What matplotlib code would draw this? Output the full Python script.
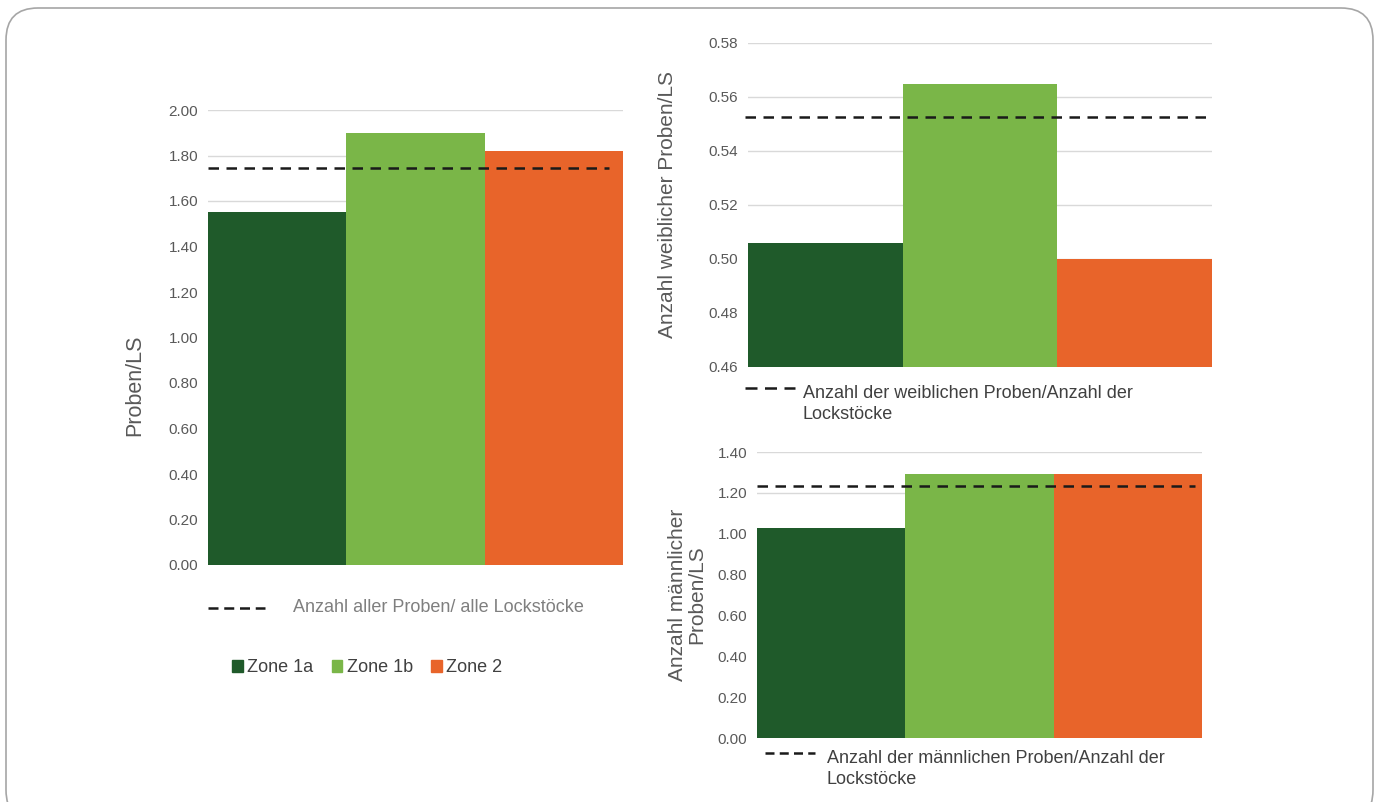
import matplotlib
matplotlib.use('Agg')
import matplotlib.pyplot as plt
from matplotlib.patches import FancyBboxPatch, Patch
from matplotlib.lines import Line2D

plt.rcParams['font.family'] = ['Liberation Sans', 'DejaVu Sans']

zones = ['Zone 1a', 'Zone 1b', 'Zone 2']
colors = ['#1f5a2a', '#7ab648', '#e8642a']

all_vals = [1.55, 1.90, 1.82]
all_mean = 1.745
female_vals = [0.506, 0.565, 0.500]
female_mean = 0.5525
male_vals = [1.03, 1.29, 1.29]
male_mean = 1.233

W, H = 1381, 802
fig = plt.figure(figsize=(W / 100, H / 100), dpi=100)
fig.patch.set_facecolor('white')

# rounded frame, in pixels
frame = FancyBboxPatch((6, -20), 1367, 814,
                       boxstyle='round,pad=0,rounding_size=32',
                       transform=None, fc='none', ec='#a6a6a6', lw=1.2, zorder=-1)
fig.patches.append(frame)


def px_axes(x0, y0, x1, y1):
    return fig.add_axes([x0 / W, 1 - y1 / H, (x1 - x0) / W, (y1 - y0) / H])


def style(ax, ylim, step, ylabel, lab_xy, lab_size):
    ax.set_xlim(-0.5, 2.5)
    ax.set_ylim(*ylim)
    n = int(round((ylim[1] - ylim[0]) / step))
    ticks = [ylim[0] + i * step for i in range(n + 1)]
    ax.set_yticks(ticks)
    ax.set_yticklabels(['%.2f' % t for t in ticks])
    ax.set_xticks([])
    for s in ax.spines.values():
        s.set_visible(False)
    ax.tick_params(axis='y', length=0, labelsize=11, labelcolor='#595959', pad=7)
    ax.grid(axis='y', color='#d9d9d9', lw=1)
    ax.set_axisbelow(True)
    ax.set_ylabel(ylabel, fontsize=lab_size, color='#595959', linespacing=1.0)
    ax.yaxis.set_label_coords(*lab_xy)


dash = dict(color='#1a1a1a', lw=1.8, dashes=(4.2, 3.0))

# left chart
ax1 = px_axes(208, 110, 623, 565)
ax1.bar(range(3), all_vals, width=1.0, color=colors)
ax1.plot([-0.5, 2.4], [all_mean, all_mean], **dash)
style(ax1, (0, 2.0), 0.2, 'Proben/LS', (-0.152, 0.396), 15.5)

# top right
ax2 = px_axes(748, 43, 1212, 367)
ax2.bar(range(3), female_vals, width=1.0, color=colors, bottom=0)
ax2.plot([-0.52, 2.5], [female_mean, female_mean], clip_on=False, **dash)
style(ax2, (0.46, 0.58), 0.02, 'Anzahl weiblicher Proben/LS', (-0.153, 0.5), 15)

# bottom right
ax3 = px_axes(757, 452, 1202, 738)
ax3.bar(range(3), male_vals, width=1.0, color=colors)
ax3.plot([-0.5, 2.45], [male_mean, male_mean], **dash)
style(ax3, (0, 1.4), 0.2, 'Anzahl männlicher\nProben/LS', (-0.115, 0.5), 15)


# legends for the dashed average lines
def dash_legend(label, x0, x1, y, tx, ty, color, va, pattern):
    fig.add_artist(Line2D([x0 / W, x1 / W], [1 - y / H, 1 - y / H],
                          color='#1a1a1a', lw=1.8, dashes=pattern))
    fig.text(tx / W, 1 - ty / H, label, fontsize=13, color=color, va=va, ha='left',
             linespacing=1.33)

dash_legend('Anzahl aller Proben/ alle Lockstöcke', 208, 265, 608, 293, 608, '#7f7f7f',
            'center', (4.0, 2.3))
dash_legend('Anzahl der weiblichen Proben/Anzahl der\nLockstöcke', 745, 795, 388, 803, 385,
            '#404040', 'top', (4.8, 3.0))
dash_legend('Anzahl der männlichen Proben/Anzahl der\nLockstöcke', 765, 815, 753, 827, 750,
            '#404040', 'top', (3.6, 2.1))

handles = [Patch(color=c) for c in colors]
fig.legend(handles, zones, loc='center left', bbox_to_anchor=(232 / W, 1 - 668 / H),
           ncol=3, frameon=False, fontsize=13, labelcolor='#404040',
           handlelength=0.6, handleheight=0.6, handletextpad=0.25, columnspacing=1.0,
           borderaxespad=0, borderpad=0)

fig.savefig('out.png', dpi=100, facecolor='white')
